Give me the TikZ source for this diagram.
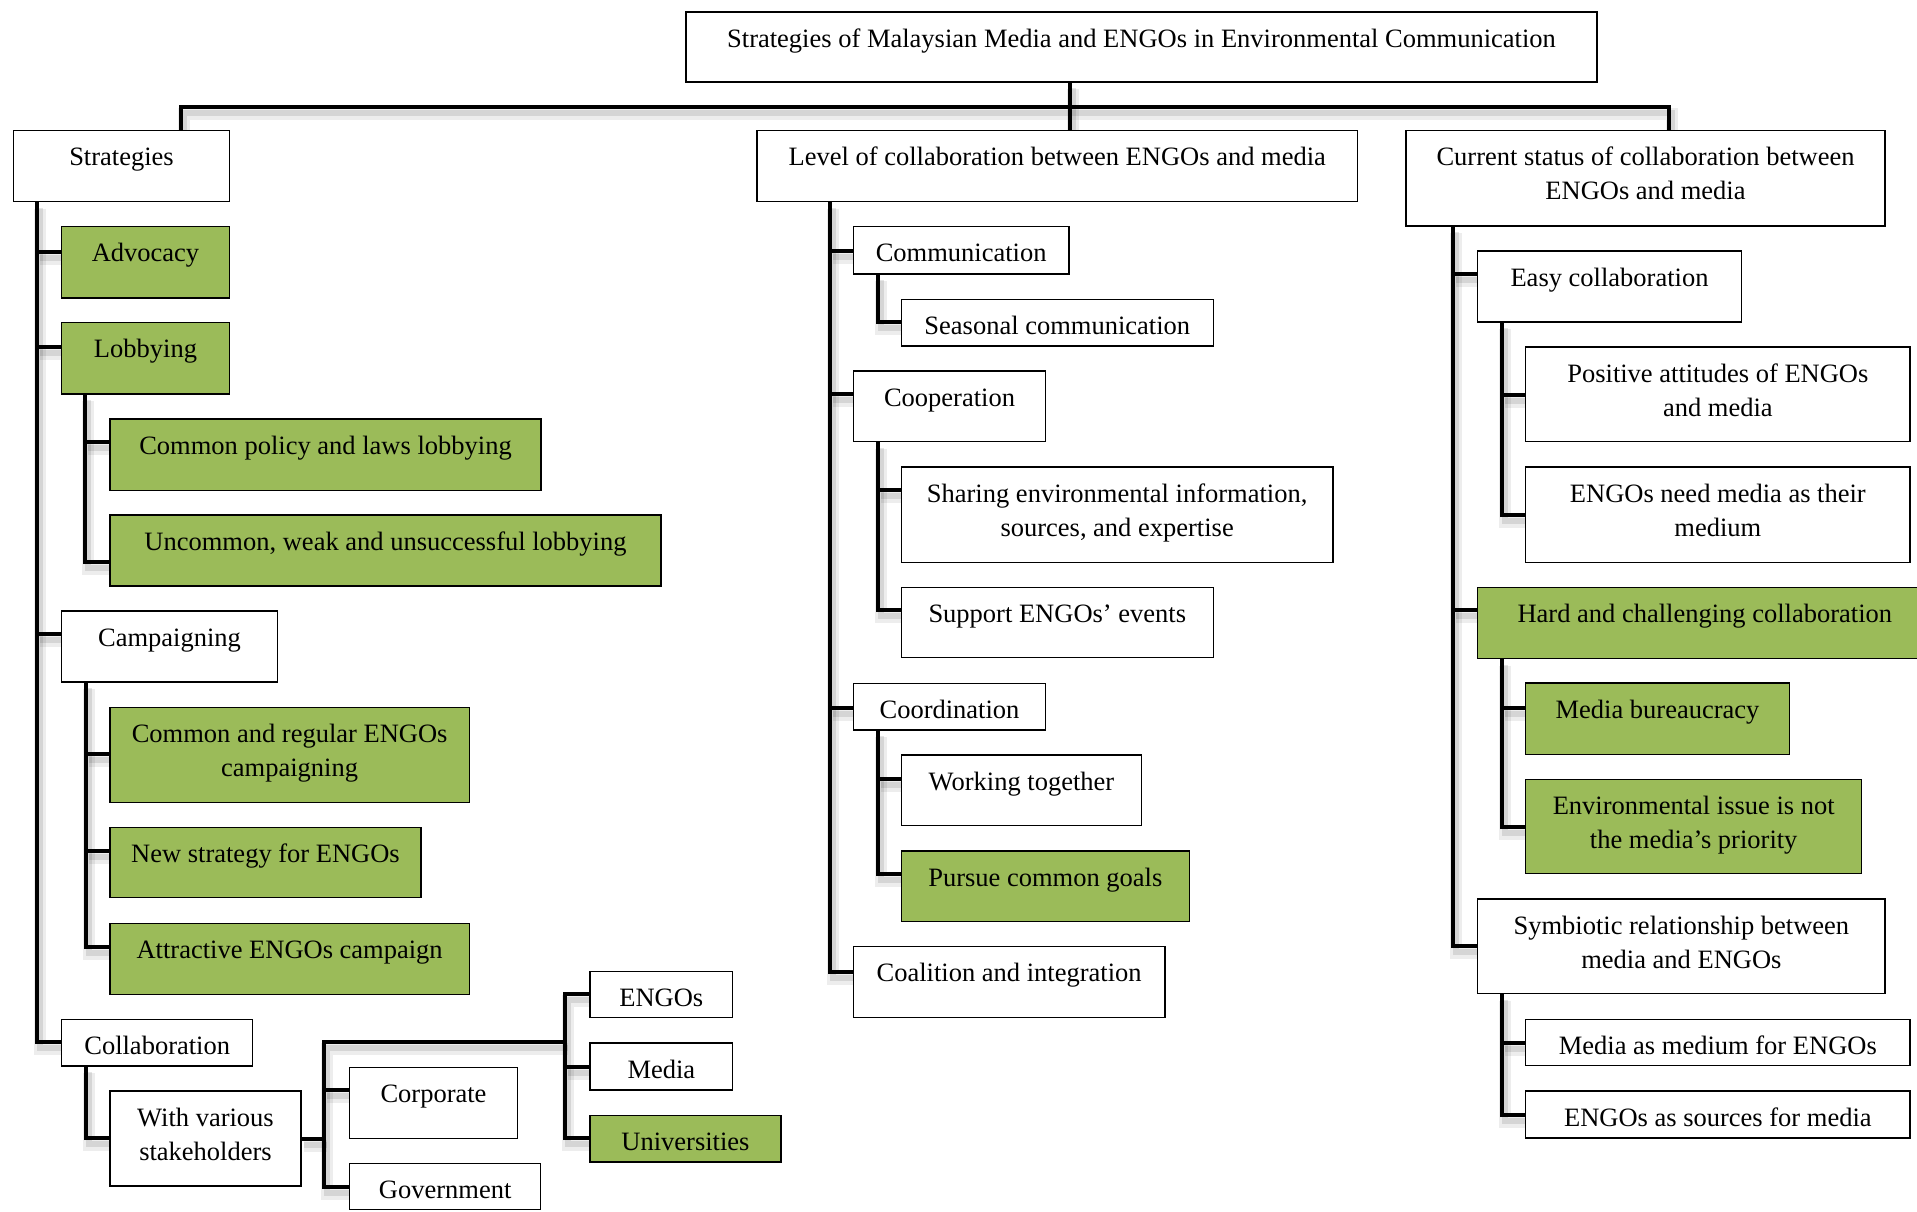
\documentclass[tikz,border=0pt]{standalone}
\usepackage{fontspec}
\setmainfont{Liberation Serif}
\usetikzlibrary{backgrounds}
\definecolor{leaf}{RGB}{155,187,89}
% two centred lines, baseline on the first one
\newcommand\twol[2]{\begin{tabular}[t]{@{}c@{}}#1\\#2\end{tabular}}
% \bx{name}{x1}{y1}{x2}{y2}{connector y}{style}{text}
\newcommand\bx[8]{%
  \node[#7, minimum width={(#4)-(#2)}, minimum height={(#5)-(#3)}, anchor=north west] (#1) at (#2,#3) {};
  \node[lbl] (#1-t) at ([yshift=-35pt]#1.north) {#8};
  \coordinate (#1-in) at (#2,#6);
}
\begin{document}
\begin{tikzpicture}[x=1pt,y=-1pt,
  box/.style={draw=black, line width=1.3pt, inner sep=0pt, outer sep=0pt, rectangle},
  plain/.style={box, fill=white},
  leafbox/.style={box, fill=leaf},
  lbl/.style={font=\fontsize{26.5}{34}\selectfont, inner sep=0pt, anchor=base},
  conn/.style={draw=black, line width=4pt, line join=miter,
    preaction={draw=black, draw opacity=0.07, line width=12pt, transform canvas={shift={(3,7)}}},
    preaction={draw=black, draw opacity=0.10, line width=6pt, transform canvas={shift={(3,6)}}}}]
\useasboundingbox (0,0) rectangle (1917,1211);

% root
\bx{title}{686}{12}{1597}{82}{47}{plain}{Strategies of Malaysian Media and ENGOs in Environmental Communication}

% strategies branch
\bx{str}{13.7}{130.7}{229.3}{201.7}{166}{plain}{Strategies}
\bx{adv}{61.7}{226.7}{229.3}{298}{252}{leafbox}{Advocacy}
\bx{lob}{61.7}{322.7}{229.3}{394}{346.7}{leafbox}{Lobbying}
\bx{lobA}{110}{419}{541}{490.3}{442.3}{leafbox}{Common policy and laws lobbying}
\bx{lobB}{110}{515}{661}{586}{561.7}{leafbox}{Uncommon, weak and unsuccessful lobbying}
\bx{cam}{61.7}{611}{277.3}{682}{634}{plain}{Campaigning}
\bx{camA}{110}{707.3}{469.3}{802.7}{754.3}{leafbox}{\twol{Common and regular ENGOs}{campaigning}}
\bx{camB}{110}{827.3}{421}{897.7}{850.7}{leafbox}{New strategy for ENGOs}
\bx{camC}{110}{923.3}{469.3}{994.3}{947.3}{leafbox}{Attractive ENGOs campaign}
\bx{col}{61.7}{1019.3}{252.7}{1066}{1042.3}{plain}{Collaboration}
\bx{wvs}{110}{1091}{301}{1186}{1138.3}{plain}{\twol{With various}{stakeholders}}
\bx{corp}{349.7}{1067.3}{517.3}{1138.3}{1090}{plain}{Corporate}
\bx{gov}{349.7}{1163.3}{540.7}{1209.5}{1186.7}{plain}{Government}
\bx{eng}{590}{971.3}{732.7}{1017.7}{994.3}{plain}{ENGOs}
\bx{med}{590}{1043}{732.7}{1090}{1067}{plain}{Media}
\bx{uni}{590}{1115.3}{781}{1162}{1138.3}{leafbox}{Universities}

% level of collaboration branch
\bx{lev}{757}{130.7}{1357.5}{201.7}{166}{plain}{Level of collaboration between ENGOs and media}
\bx{com}{853.3}{226.7}{1069}{274}{251.3}{plain}{Communication}
\bx{sea}{901.3}{299.3}{1213.3}{346}{322.3}{plain}{Seasonal communication}
\bx{coo}{853.3}{371}{1045.7}{441.7}{394.3}{plain}{Cooperation}
\bx{sha}{901.3}{467}{1333}{562.3}{490}{plain}{\twol{Sharing environmental information,}{sources, and expertise}}
\bx{sup}{901.3}{587.3}{1213.3}{657.7}{610}{plain}{Support ENGOs’ events}
\bx{crd}{853.3}{683.3}{1045.7}{730}{707.7}{plain}{Coordination}
\bx{wrk}{901.3}{755}{1141.7}{825.7}{779.3}{plain}{Working together}
\bx{pur}{901.3}{851}{1189.3}{921.7}{874.3}{leafbox}{Pursue common goals}
\bx{coa}{853.3}{946.7}{1165}{1017.7}{971.7}{plain}{Coalition and integration}

% current status branch
\bx{cur}{1406}{130.7}{1885}{226}{178}{plain}{\twol{Current status of collaboration between}{ENGOs and media}}
\bx{easy}{1477.7}{251}{1741.3}{322}{274}{plain}{Easy collaboration}
\bx{pos}{1525.7}{347}{1910}{441.7}{394.5}{plain}{\twol{Positive attitudes of ENGOs}{and media}}
\bx{need}{1525.7}{467}{1910}{562.3}{515}{plain}{\twol{ENGOs need media as their}{medium}}
\bx{hard}{1477.7}{587.2}{1932}{658.5}{610.2}{leafbox}{Hard and challenging collaboration}
\bx{bur}{1525.7}{683}{1789.3}{754.2}{708}{leafbox}{Media bureaucracy}
\bx{env}{1525.7}{779.2}{1861.7}{873.8}{826.7}{leafbox}{\twol{Environmental issue is not}{the media’s priority}}
\bx{sym}{1477.7}{899.1}{1885}{993.7}{946.2}{plain}{\twol{Symbiotic relationship between}{media and ENGOs}}
\bx{mam}{1525.7}{1019.4}{1910}{1065.7}{1042.8}{plain}{Media as medium for ENGOs}
\bx{eas}{1525.7}{1091}{1910}{1138.1}{1115.2}{plain}{ENGOs as sources for media}

% trunk origins under each parent
\coordinate (busL) at (181,106.7);
\coordinate (busR) at (1669.3,106.7);
\coordinate (drop) at (1070,82);
\coordinate (str-b) at (37.3,201.7);
\coordinate (lob-b) at (85.3,394);
\coordinate (cam-b) at (85.7,682);
\coordinate (col-b) at (85.7,1066);
\coordinate (hubA) at (324.3,1042.3);
\coordinate (hubB) at (565,1138.3);
\coordinate (lev-b) at (830,201.7);
\coordinate (com-b) at (878.3,274);
\coordinate (coo-b) at (878.3,441.7);
\coordinate (crd-b) at (878.3,730);
\coordinate (cur-b) at (1453.3,226);
\coordinate (easy-b) at (1502,322);
\coordinate (hard-b) at (1502,658.5);
\coordinate (sym-b) at (1502,993.7);

\begin{pgfonlayer}{background}
  % top bus
  \draw[conn] (str.north -| busL) -- (busL) -- (busR) -- (cur.north -| busR);
  \draw[conn] (title.south -| drop) -- (lev.north -| drop);
  % strategies
  \draw[conn] (str-b) |- (col-in);
  \foreach \n in {adv,lob,cam} \draw[conn] (str-b |- \n-in) -- (\n-in);
  \draw[conn] (lob-b) |- (lobB-in);
  \draw[conn] (lob-b |- lobA-in) -- (lobA-in);
  \draw[conn] (cam-b) |- (camC-in);
  \foreach \n in {camA,camB} \draw[conn] (cam-b |- \n-in) -- (\n-in);
  \draw[conn] (col-b) |- (wvs-in);
  \draw[conn] (wvs.east) -- (wvs.east -| hubA);
  \draw[conn] (hubA -| hubB) -- (hubA) |- (gov-in);
  \draw[conn] (hubA |- corp-in) -- (corp-in);
  \draw[conn] (eng-in) -| (hubB) -- (uni-in);
  \draw[conn] (hubB |- med-in) -- (med-in);
  % level of collaboration
  \draw[conn] (lev-b) |- (coa-in);
  \foreach \n in {com,coo,crd} \draw[conn] (lev-b |- \n-in) -- (\n-in);
  \draw[conn] (com-b) |- (sea-in);
  \draw[conn] (coo-b) |- (sup-in);
  \draw[conn] (coo-b |- sha-in) -- (sha-in);
  \draw[conn] (crd-b) |- (pur-in);
  \draw[conn] (crd-b |- wrk-in) -- (wrk-in);
  % current status
  \draw[conn] (cur-b) |- (sym-in);
  \foreach \n in {easy,hard} \draw[conn] (cur-b |- \n-in) -- (\n-in);
  \draw[conn] (easy-b) |- (need-in);
  \draw[conn] (easy-b |- pos-in) -- (pos-in);
  \draw[conn] (hard-b) |- (env-in);
  \draw[conn] (hard-b |- bur-in) -- (bur-in);
  \draw[conn] (sym-b) |- (eas-in);
  \draw[conn] (sym-b |- mam-in) -- (mam-in);
\end{pgfonlayer}
\end{tikzpicture}
\end{document}
